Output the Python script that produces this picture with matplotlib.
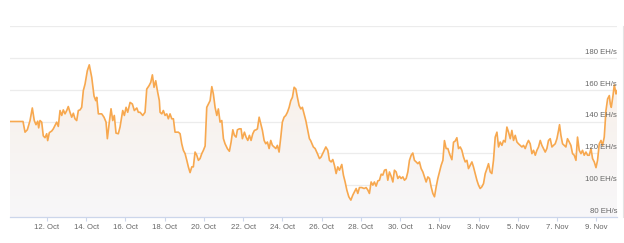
#!/usr/bin/env python3
"""
plot.py - Hashrate area chart (10 Oct - 10 Nov), written to out.png.
"""

from datetime import datetime, timedelta

import matplotlib
matplotlib.use("Agg")
import matplotlib.dates as mdates
import matplotlib.pyplot as plt
import numpy as np
from matplotlib.colors import LinearSegmentedColormap
from matplotlib.lines import Line2D

OUT = "out.png"

START = datetime(2020, 10, 10)

# hours after START
HOURS = [
    2.7, 18.6, 21.1, 23.9, 27.2, 30.0, 32.4, 34.5, 36.6, 37.8, 39.4, 41.5,
    43.4, 45.5, 47.6, 48.8, 50.8, 53.7, 55.7, 57.8, 59.8, 61.8, 63.9, 66.0,
    67.9, 70.0, 72.1, 74.0, 76.1, 78.2, 80.2, 82.2, 84.3, 86.3, 88.4, 90.4,
    92.4, 94.5, 97.3, 99.7, 102.7, 105.5, 107.6, 108.8, 110.8, 114.9, 117.7,
    120.2, 121.8, 124.2, 126.3, 128.4, 130.3, 132.4, 135.2, 137.3, 140.6,
    142.6, 144.7, 146.7, 149.6, 152.4, 154.8, 157.8, 159.7, 161.8, 165.1,
    167.9, 170.0, 172.8, 174.9, 176.9, 178.9, 181.0, 183.0, 185.4, 186.3,
    188.4, 190.3, 192.4, 194.5, 196.4, 198.5, 200.6, 202.6, 204.6, 208.7,
    210.8, 212.8, 214.8, 216.9, 219.0, 220.9, 223.0, 225.1, 227.0, 229.1,
    231.2, 233.2, 235.2, 237.3, 239.3, 241.4, 243.4, 245.4, 247.5, 249.6,
    251.5, 253.6, 255.7, 257.6, 259.7, 261.8, 263.8, 265.8, 268.7, 271.1,
    273.2, 275.3, 277.2, 279.3, 280.9, 283.3, 285.4, 287.0, 289.5, 291.5,
    293.6, 295.6, 297.6, 299.7, 301.7, 303.8, 305.4, 307.5, 309.5, 311.5,
    313.6, 315.6, 317.6, 319.7, 321.7, 323.7, 325.8, 327.9, 329.8, 331.9,
    334.0, 335.9, 338.0, 340.1, 342.1, 344.2, 346.2, 348.2, 350.3, 352.4,
    354.3, 356.4, 358.5, 360.4, 362.5, 364.6, 366.6, 369.0, 370.5, 373.8,
    376.0, 378.8, 381.3, 383.3, 386.1, 389.1, 391.5, 393.5, 395.6, 397.6,
    399.6, 401.7, 403.7, 405.7, 408.6, 410.6, 412.7, 414.8, 417.2, 419.7,
    422.1, 424.1, 426.2, 428.2, 430.2, 433.1, 435.9, 438.4, 440.5, 442.4,
    444.5, 446.6, 448.5, 450.6, 452.7, 454.7, 456.8, 458.8, 460.8, 462.9,
    464.9, 466.9, 469.0, 471.1, 473.0, 475.1, 477.2, 479.2, 481.2, 483.3,
    485.3, 487.4, 489.4, 491.4, 493.5, 495.5, 497.5, 499.6, 501.7, 503.6,
    505.7, 507.8, 509.7, 511.8, 513.9, 515.9, 517.9, 520.0, 522.0, 524.1,
    526.1, 528.1, 530.2, 532.3, 534.2, 536.3, 538.4, 540.3, 543.3, 545.3,
    547.3, 549.4, 551.4, 553.5, 555.5, 557.5, 559.6, 561.7, 563.6, 565.7,
    567.8, 569.7, 571.8, 573.9, 575.9, 577.9, 580.0, 582.0, 584.1, 586.2,
    588.1, 590.2, 592.2, 594.2, 596.3, 598.4, 600.4, 602.4, 604.5, 606.5,
    608.5, 610.6, 612.6, 614.7, 616.7, 618.7, 620.8, 622.9, 624.8, 626.9,
    629.0, 630.9, 633.0, 635.1, 637.0, 639.1, 641.2, 643.2, 645.3, 647.3,
    649.3, 651.4, 653.4, 655.4, 657.5, 659.5, 661.5, 663.6, 665.7, 667.6,
    669.7, 671.8, 673.8, 675.0, 676.7, 678.7, 680.7, 682.8, 684.7, 686.9,
    688.9, 690.9, 693.0, 695.1, 697.0, 699.1, 701.2, 703.1, 705.2, 707.3,
    709.3, 711.4, 713.5, 715.4, 717.5, 719.6, 721.5, 723.6, 725.7, 727.6,
    729.7, 731.8, 733.8, 735.9, 737.1, 738.3, 740.4, 742.0, 744.1, 745.3,
]

# hashrate, EH/s
HASHRATE = [
    140.0, 140.0, 133.3, 134.8, 140.6, 148.5, 140.6, 138.0, 140.2, 136.0, 140.6, 139.6,
    131.0, 129.8, 132.3, 128.0, 133.0, 134.0, 135.4, 137.5, 139.6, 136.9, 146.9, 143.8,
    147.3, 144.8, 146.9, 149.4, 145.8, 142.7, 145.2, 141.7, 140.6, 146.9, 147.3, 148.9,
    159.4, 163.5, 171.9, 175.6, 167.7, 156.0, 153.1, 155.2, 144.8, 144.8, 142.7,
    139.6, 129.2, 139.6, 148.0, 140.6, 143.8, 132.7, 132.3, 136.5, 146.9,
    143.8, 148.9, 145.8, 152.0, 151.0, 146.9, 148.5, 145.8, 145.8, 143.8,
    145.8, 160.4, 162.5, 164.6, 169.3, 161.5, 165.6, 159.4, 153.1, 145.8,
    144.8, 146.9, 143.8, 144.8, 141.7, 144.8, 141.7, 141.7, 133.3, 133.3,
    132.3, 126.0, 121.9, 119.8, 115.6, 111.5, 107.9, 111.5, 111.5, 120.8,
    118.8, 115.6, 116.7, 119.8, 121.9, 124.6, 148.9, 151.0, 153.1, 161.9,
    157.3, 148.9, 143.8, 147.9, 139.6, 140.6, 129.2, 126.0, 122.9, 121.3,
    127.1, 134.8, 131.3, 130.2, 134.8, 135.4, 135.4, 129.2, 133.3, 130.2,
    128.1, 131.3, 128.1, 132.3, 134.4, 134.8, 135.4, 142.7, 138.5, 134.4,
    128.1, 126.0, 127.1, 123.0, 128.1, 125.0, 124.0, 123.0, 125.0, 120.8,
    130.2, 139.6, 142.7, 143.8, 145.8, 148.9, 153.1, 155.2, 161.5, 160.4,
    155.2, 150.0, 147.9, 148.9, 144.8, 140.6, 135.4, 129.2, 128.0, 124.0,
    123.0, 119.8, 116.7, 117.7, 120.8, 124.0, 121.9, 115.6, 114.6, 116.1,
    112.5, 107.3, 111.5, 109.4, 113.0, 106.3, 102.0, 96.9, 92.7, 90.6,
    93.8, 95.8, 97.9, 94.8, 98.5, 98.5, 97.9, 98.5, 96.9, 94.8,
    102.0, 100.0, 102.0, 99.4, 102.7, 103.1, 106.9, 106.3, 109.4, 109.8,
    103.1, 108.3, 105.6, 102.0, 109.4, 108.3, 104.2, 105.6, 104.2, 105.2,
    103.1, 104.2, 108.3, 115.6, 118.8, 120.2, 115.6, 114.6, 113.5, 114.6,
    110.4, 108.3, 105.2, 102.0, 105.2, 104.2, 99.0, 94.8, 92.7, 99.0,
    104.2, 108.3, 112.5, 115.6, 128.0, 123.0, 123.0, 119.8, 116.0, 127.0,
    127.7, 129.8, 123.0, 124.0, 121.9, 117.7, 114.6, 115.6, 110.4, 112.5,
    114.6, 111.5, 107.3, 103.1, 100.0, 97.9, 99.0, 101.0, 107.3, 110.4,
    113.5, 108.3, 107.3, 115.6, 130.2, 133.3, 124.0, 127.1, 125.0, 128.1,
    127.1, 136.5, 133.3, 129.2, 134.4, 128.1, 131.3, 127.1, 126.0, 125.0,
    124.0, 125.0, 123.0, 126.0, 128.1, 126.0, 119.8, 121.9, 118.8, 121.9,
    124.0, 128.1, 125.0, 123.0, 120.8, 123.0, 128.1, 129.2, 124.0, 125.0,
    126.0, 129.2, 134.4, 138.0, 131.3, 126.0, 125.0, 124.0, 129.2, 127.1,
    125.0, 119.8, 118.8, 115.6, 130.2, 121.9, 119.8, 121.9, 118.8, 120.8,
    118.8, 118.8, 123.0, 116.7, 114.6, 111.0, 115.6, 126.0, 128.1, 125.0,
    130.2, 146.9, 154.2, 156.3, 151.0, 148.9, 156.3, 163.0, 157.3, 159.4,
]

Y_TICKS = [80, 100, 120, 140, 160, 180, 200]
Y_LABELS = ["80 EH/s", "100 EH/s", "120 EH/s", "140 EH/s", "160 EH/s", "180 EH/s", ""]
X_TICKS = ["2020-10-12", "2020-10-14", "2020-10-16", "2020-10-18", "2020-10-20",
           "2020-10-22", "2020-10-24", "2020-10-26", "2020-10-28", "2020-10-30",
           "2020-11-01", "2020-11-03", "2020-11-05", "2020-11-07", "2020-11-09"]

LINE_COLOR = "#f7a84f"
GRID_COLOR = "#ececec"
AXIS_COLOR = "#ccd6eb"
LABEL_COLOR = "#666666"
FONT = ["Liberation Sans", "DejaVu Sans"]


def gradient_fill(ax, x, y, ymin):
    """Area under the line, light peach at the top fading to grey-white."""
    fill = ax.fill_between(x, y, ymin, color="none", lw=0)
    cmap = LinearSegmentedColormap.from_list("peach", ["#f7f7f9", "#f9eee4"])
    grad = np.linspace(0, 1, 256).reshape(-1, 1)
    x0, x1 = ax.get_xlim()
    y0, y1 = ax.get_ylim()
    im = ax.imshow(grad, cmap=cmap, aspect="auto", origin="lower",
                   extent=[x0, x1, y0, y1], zorder=1)
    im.set_clip_path(fill.get_paths()[0], transform=ax.transData)


def main():
    times = [START + timedelta(hours=h) for h in HOURS]
    xnum = mdates.date2num(times)

    fig = plt.figure(figsize=(6.24, 2.43), dpi=100)
    ax = fig.add_axes([10 / 624, 26 / 243, 607 / 624, 191 / 243])

    ax.set_xlim(xnum[0], xnum[-1])
    ax.set_ylim(80, 200)

    gradient_fill(ax, xnum, HASHRATE, 80)
    ax.plot(xnum, HASHRATE, color=LINE_COLOR, lw=1.2, zorder=3,
            solid_joinstyle="round")

    # horizontal grid + labels sitting just above each line on the right
    for val, lab in zip(Y_TICKS[1:], Y_LABELS[1:]):
        ax.axhline(val, color=GRID_COLOR, lw=0.9, zorder=0.5)
    for val, lab in zip(Y_TICKS, Y_LABELS):
        if lab:
            ax.annotate(lab, xy=(1.0, val), xycoords=ax.get_yaxis_transform(),
                        xytext=(0, 1.5), textcoords="offset points",
                        ha="right", va="bottom", fontsize=5.6,
                        color=LABEL_COLOR, family=FONT, zorder=4)
    ax.set_yticks([])

    for side in ("top", "right", "left"):
        ax.spines[side].set_visible(False)
    ax.spines["bottom"].set_color(AXIS_COLOR)
    ax.spines["bottom"].set_linewidth(0.9)

    tick_dates = [datetime.strptime(d, "%Y-%m-%d") for d in X_TICKS]
    ax.set_xticks(mdates.date2num(tick_dates))
    ax.set_xticklabels([f"{d.day}. {d:%b}" for d in tick_dates],
                       fontsize=5.6, color=LABEL_COLOR, family=FONT)
    ax.tick_params(axis="x", length=3.2, width=0.8, color=AXIS_COLOR, pad=1.5)

    ax.set_facecolor("white")

    # faint frame line at the right edge of the picture
    fig.add_artist(Line2D([622.5 / 624, 622.5 / 624], [26 / 243, 217 / 243],
                          transform=fig.transFigure, color="#e4e4e4", lw=0.8))

    fig.savefig(OUT, dpi=100)
    plt.close(fig)


if __name__ == "__main__":
    main()
